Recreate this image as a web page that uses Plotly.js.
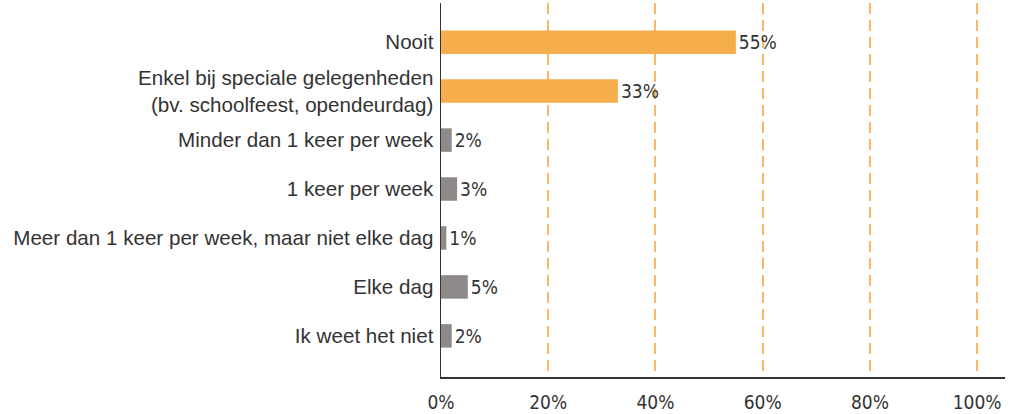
<!DOCTYPE html>
<html>
<head>
<meta charset="utf-8">
<script src="https://cdn.plot.ly/plotly-3.0.1.min.js"></script>
<style>html,body{margin:0;padding:0;background:#fff;}#chart{width:1020px;height:414px;}</style>
</head>
<body>
<div id="chart"></div>
<script>
const categories = [
  "Nooit",
  "Enkel bij speciale gelegenheden<br>(bv. schoolfeest, opendeurdag)",
  "Minder dan 1 keer per week",
  "1 keer per week",
  "Meer dan 1 keer per week, maar niet elke dag",
  "Elke dag",
  "Ik weet het niet"
];
const values = [55, 33, 2, 3, 1, 5, 2];
const valueLabels = ["55%", "33%", "2%", "3%", "1%", "5%", "2%"];
const highlight = [true, true, false, false, false, false, false];
const tickVals = [0, 20, 40, 60, 80, 100];
const tickText = ["0%", "20%", "40%", "60%", "80%", "100%"];

const ORANGE = "#F6AD4C";
const GRAY = "#8F8A8A";

const trace = {
  type: "bar",
  orientation: "h",
  y: categories.map((c, i) => i),
  x: values,
  width: 0.48,
  marker: { color: highlight.map(h => h ? ORANGE : GRAY) },
  text: valueLabels,
  textposition: "outside",
  cliponaxis: false,
  textfont: { family: "DejaVu Sans Condensed, DejaVu Sans", size: 19, color: "#333333" },
  hoverinfo: "none"
};

const layout = {
  width: 1020,
  height: 414,
  margin: { l: 441, r: 15, t: 3, b: 37 },
  paper_bgcolor: "#ffffff",
  plot_bgcolor: "#ffffff",
  showlegend: false,
  xaxis: {
    range: [0, 105.2],
    tickvals: tickVals,
    ticktext: tickText,
    showgrid: true,
    gridcolor: "#F8B865",
    griddash: "11px,6px",
    gridwidth: 2,
    zeroline: false,
    showline: true,
    linecolor: "#333333",
    linewidth: 1.5,
    ticks: "",
    ticklabelstandoff: 8,
    tickfont: { family: "DejaVu Sans Condensed, DejaVu Sans", size: 19, color: "#333333" }
  },
  yaxis: {
    range: [6.84, -0.80],
    tickvals: categories.map((c, i) => i),
    ticktext: categories,
    showgrid: false,
    zeroline: false,
    showline: true,
    linecolor: "#333333",
    linewidth: 1.5,
    ticks: "",
    ticklabelstandoff: 2,
    tickfont: { family: "Liberation Sans, Arial", size: 20.6, color: "#333333" }
  }
};

Plotly.newPlot("chart", [trace], layout, { displayModeBar: false, staticPlot: true });
</script>
</body>
</html>
